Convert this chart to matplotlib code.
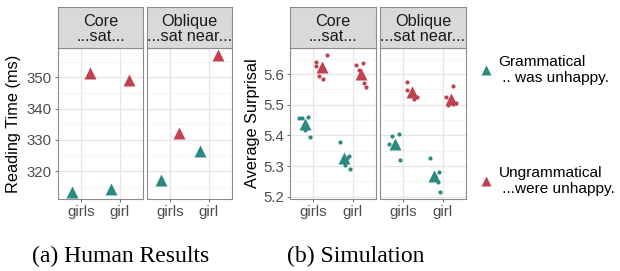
import numpy as np
import matplotlib
matplotlib.use("Agg")
from matplotlib import pyplot as plt
from matplotlib.lines import Line2D


# Categories
WORDS = ["girls", "girl"]
FACETS = ["Core\n...sat...", "Oblique\n...sat near..."]
CONDITIONS = ["Grammatical\n .. was unhappy.", "Ungrammatical\n ...were unhappy."]

# (a) Human reading times (ms), per word [girls, girl]
human_core_gram = [313.3, 314.2]
human_core_ungram = [351.3, 349.3]
human_obl_gram = [317.3, 326.3]
human_obl_ungram = [332.3, 357.2]

# (b) Simulation, average surprisal of individual runs
sim_core_girls_gram = [5.458, 5.458, 5.460, 5.419, 5.394]
sim_core_girl_gram = [5.380, 5.332, 5.327, 5.302, 5.292]
sim_core_girls_ungram = [5.663, 5.639, 5.628, 5.595, 5.585]
sim_core_girl_ungram = [5.629, 5.636, 5.614, 5.572, 5.559]
sim_obl_girls_gram = [5.397, 5.405, 5.371, 5.319]
sim_obl_girl_gram = [5.328, 5.280, 5.268, 5.249, 5.215]
sim_obl_girls_ungram = [5.575, 5.548, 5.518, 5.527]
sim_obl_girl_ungram = [5.562, 5.527, 5.500, 5.503, 5.506]

# horizontal jitter of the single runs (category units, around dodged position)
JIT_CORE_GIRLS_GRAM = [-0.137, -0.077, 0.093, 0.0, 0.127]
JIT_CORE_GIRL_GRAM = [-0.097, 0.133, 0.083, 0.04, 0.15]
JIT_CORE_GIRLS_UNGRAM = [0.113, -0.151, -0.151, -0.074, 0.028]
JIT_CORE_GIRL_UNGRAM = [-0.136, 0.043, -0.068, 0.06, 0.127]
JIT_OBL_GIRLS_GRAM = [-0.062, 0.108, -0.138, 0.142]
JIT_OBL_GIRL_GRAM = [-0.095, 0.126, 0.033, 0.117, 0.16]
JIT_OBL_GIRLS_UNGRAM = [-0.137, -0.137, 0.032, 0.125]
JIT_OBL_GIRL_UNGRAM = [0.05, -0.137, -0.086, 0.033, 0.118]

TEAL = "#2b8a80"
RED = "#c1424f"
DODGE = 0.225
W, H = 620, 271
SANS = "Liberation Sans"
SERIF = "Liberation Serif"


# Helper functions
def pxAxes(fig, x0, y0, x1, y1):
    return fig.add_axes([x0 / W, 1 - y1 / H, (x1 - x0) / W, (y1 - y0) / H])

def expandLimits(values):
    lo, hi = min(values), max(values)
    pad = (hi - lo) * 0.05
    return lo - pad, hi + pad

def stylePanel(ax, ylim, yticks, yminor, showY):
    ax.set_xlim(0.4, 2.6)
    ax.set_ylim(*ylim)
    ax.set_facecolor("white")
    ax.set_xticks([1, 2])
    ax.set_xticklabels(WORDS, fontsize=10.8, color="#4d4d4d", family=SANS)
    ax.set_yticks(yticks)
    ax.set_yticks(yminor, minor=True)
    ax.grid(True, which="major", color="#e6e6e6", lw=0.9)
    ax.grid(True, which="minor", axis="y", color="#f2f2f2", lw=0.6)
    ax.set_axisbelow(True)
    ax.tick_params(axis="both", which="major", length=2.5, width=0.6,
                   color="#555555", pad=2)
    ax.tick_params(axis="y", which="minor", length=0)
    if showY:
        for t in ax.get_yticklabels():
            t.set_fontsize(10.8)
            t.set_color("#4d4d4d")
            t.set_family(SANS)
    else:
        ax.tick_params(axis="y", which="major", length=0, labelleft=False)
    for s in ax.spines.values():
        s.set_color("#8c8c8c")
        s.set_linewidth(0.8)

def addStrip(fig, x0, x1, label):
    st = pxAxes(fig, x0, 7, x1, 48)
    st.set_facecolor("#d9d9d9")
    st.set_xticks([])
    st.set_yticks([])
    for s in st.spines.values():
        s.set_color("#8c8c8c")
        s.set_linewidth(0.8)
    st.text(0.5, 0.47, label, ha="center", va="center", fontsize=11.7,
            color="#1a1a1a", family=SANS, linespacing=1.0,
            transform=st.transAxes, clip_on=True)

def drawMeans(ax, gram, ungram):
    x = np.arange(1, len(WORDS) + 1)
    ax.plot(x - DODGE, gram, "^", color=TEAL, ms=8.5, mec="none", zorder=3)
    ax.plot(x + DODGE, ungram, "^", color=RED, ms=8.5, mec="none", zorder=3)

def drawRuns(ax, pos, values, jitter, color):
    xs = pos + np.array(jitter)
    ax.plot(xs, values, "o", color=color, ms=3.0, mec="none", zorder=2)
    ax.plot([pos], [np.mean(values)], "^", color=color, ms=9, mec="none", zorder=3)


fig = plt.figure(figsize=(W / 100, H / 100), dpi=100)

# (a) Human results
humanAll = human_core_gram + human_core_ungram + human_obl_gram + human_obl_ungram
humanLim = expandLimits(humanAll)
panelsA = [(58, 143, human_core_gram, human_core_ungram),
           (147, 232, human_obl_gram, human_obl_ungram)]
for i, (x0, x1, gram, ungram) in enumerate(panelsA):
    ax = pxAxes(fig, x0, 48, x1, 199)
    stylePanel(ax, humanLim, [320, 330, 340, 350], [315, 325, 335, 345, 355], i == 0)
    drawMeans(ax, gram, ungram)
    addStrip(fig, x0, x1, FACETS[i])
    if i == 0:
        ax.set_ylabel("Reading Time (ms)", fontsize=11.7, family=SANS, labelpad=4)

# (b) Simulation
simAll = (sim_core_girls_gram + sim_core_girl_gram + sim_core_girls_ungram
          + sim_core_girl_ungram + sim_obl_girls_gram + sim_obl_girl_gram
          + sim_obl_girls_ungram + sim_obl_girl_ungram)
simLim = expandLimits(simAll)
panelsB = [
    (290, 376, [(sim_core_girls_gram, JIT_CORE_GIRLS_GRAM),
                (sim_core_girl_gram, JIT_CORE_GIRL_GRAM)],
               [(sim_core_girls_ungram, JIT_CORE_GIRLS_UNGRAM),
                (sim_core_girl_ungram, JIT_CORE_GIRL_UNGRAM)]),
    (380, 466, [(sim_obl_girls_gram, JIT_OBL_GIRLS_GRAM),
                (sim_obl_girl_gram, JIT_OBL_GIRL_GRAM)],
               [(sim_obl_girls_ungram, JIT_OBL_GIRLS_UNGRAM),
                (sim_obl_girl_ungram, JIT_OBL_GIRL_UNGRAM)]),
]
for i, (x0, x1, gramRuns, ungramRuns) in enumerate(panelsB):
    ax = pxAxes(fig, x0, 48, x1, 199)
    stylePanel(ax, simLim, [5.2, 5.3, 5.4, 5.5, 5.6],
               [5.25, 5.35, 5.45, 5.55, 5.65], i == 0)
    if i == 0:
        ax.set_yticklabels(["5.2", "5.3", "5.4", "5.5", "5.6"])
        for t in ax.get_yticklabels():
            t.set_fontsize(10.8)
            t.set_color("#4d4d4d")
            t.set_family(SANS)
        ax.set_ylabel("Average Surprisal", fontsize=11.7, family=SANS, labelpad=2)
    for k, (vals, jit) in enumerate(gramRuns):
        drawRuns(ax, k + 1 - DODGE, vals, jit, TEAL)
    for k, (vals, jit) in enumerate(ungramRuns):
        drawRuns(ax, k + 1 + DODGE, vals, jit, RED)
    addStrip(fig, x0, x1, FACETS[i])

# Legend
handles = [Line2D([], [], ls="none", marker="^", color=c, ms=7.5, mec="none")
           for c in (TEAL, RED)]
fig.legend(handles, CONDITIONS, loc="center left", bbox_to_anchor=(480 / W, 1 - 125.5 / H),
           frameon=False, prop={"family": SANS, "size": 11.1}, labelspacing=5.25,
           handlelength=0.8, handletextpad=0.4, borderpad=0, borderaxespad=0)

# Captions
fig.text(121 / W, 1 - 256 / H, "(a) Human Results", ha="center", va="center",
         fontsize=17, family=SERIF)
fig.text(356 / W, 1 - 256 / H, "(b) Simulation", ha="center", va="center",
         fontsize=17, family=SERIF)

fig.savefig("out.png", dpi=100)
